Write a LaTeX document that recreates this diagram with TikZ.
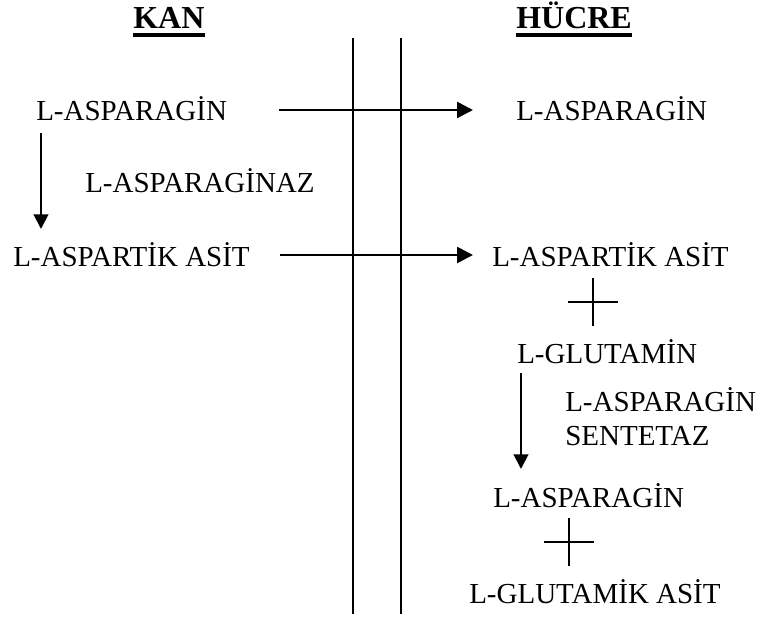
\documentclass[tikz,border=0pt]{standalone}
\usepackage{fontspec}
\setmainfont{Liberation Serif}
\usetikzlibrary{calc,arrows.meta}

\begin{document}
\begin{tikzpicture}[x=0.75pt, y=-0.75pt,
  every node/.style={font=\fontsize{21.75}{26}\selectfont, inner sep=0pt, anchor=base west},
  head/.style={font=\fontsize{24}{28}\selectfont\bfseries},
  flow/.style={line width=2pt, -{Triangle[length=12pt,width=12pt]}},
  react/.style={line width=1.5pt, -{Triangle[length=11pt,width=11pt]}},
  wall/.style={line width=1.5pt}]
\useasboundingbox (0,0) rectangle (758,617);
% basliklar
\node[head] (kan) at (133,29) {KAN};
\node[head] (hucre) at (516,29) {HÜCRE};
\draw[line width=2.5pt] ([yshift=-4.5pt]kan.base west) -- ([yshift=-4.5pt]kan.base east);
\draw[line width=2.5pt] ([yshift=-4.5pt]hucre.base west) -- ([yshift=-4.5pt]hucre.base east);
% zar
\draw[wall] (353,38) -- (353,614);
\draw[wall] (401,38) -- (401,614);
% kan tarafi
\node (asnK) at (36,121) {L-ASPARAGİN};
\node (enzK) at (85,193) {L-ASPARAGİNAZ};
\node (aspK) at (13,267) {L-ASPARTİK ASİT};
\draw[react] ($(asnK.base west)+(5,12)$) -- ($(asnK.base west |- aspK.base)+(5,-38)$);
% hucre tarafi
\node (asnH) at (516,121) {L-ASPARAGİN};
\node (aspH) at (492,267) {L-ASPARTİK ASİT};
\node (glnH) at (517,363) {L-GLUTAMİN};
\node (enzH1) at (565,411) {L-ASPARAGİN};
\node (enzH2) at (565,445) {SENTETAZ};
\node (asnH2) at (493,507) {L-ASPARAGİN};
\node (gluH) at (469,603) {L-GLUTAMİK ASİT};
\draw[react] ($(glnH.base west)+(4,10)$) -- ($(glnH.base west |- asnH2.base)+(4,-38)$);
% tasima
\draw[flow] ($(asnK.base east)+(52,-11)$) -- ($(asnH.base west)+(-43,-11)$);
\draw[flow] ($(aspK.base east)+(30,-12)$) -- ($(aspH.base west)+(-19,-12)$);
% arti isaretleri
\coordinate (p1) at (593,302);
\draw[wall] ($(p1)+(-25,0)$) -- ($(p1)+(25,0)$) ($(p1)+(0,-24)$) -- ($(p1)+(0,24)$);
\coordinate (p2) at (569,542);
\draw[wall] ($(p2)+(-25,0)$) -- ($(p2)+(25,0)$) ($(p2)+(0,-24)$) -- ($(p2)+(0,24)$);
\end{tikzpicture}
\end{document}
